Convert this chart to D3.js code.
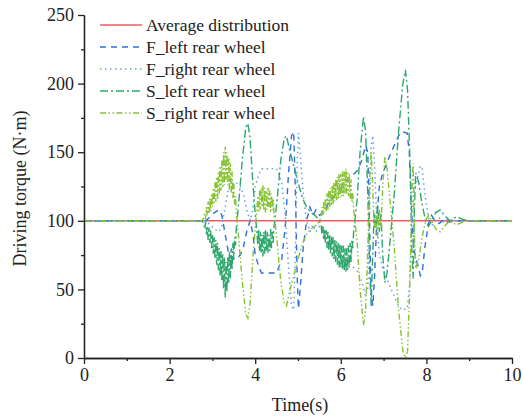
<!DOCTYPE html>
<html>
<head>
<meta charset="utf-8">
<script src="https://cdn.jsdelivr.net/npm/d3@7"></script>
<style>
  body { margin: 0; background: #fff; }
  svg { display: block; font-family: "Liberation Serif", "Times New Roman", serif; }
</style>
</head>
<body>
<div id="body"></div>
<script>
// torque curves, [time (s), torque (N·m)]
var avgDist = [[0, 100], [10, 100]];

var fLeft = [[0,100],[2.85,100],[2.95,103],[3.05,106],[3.15,108],[3.22,104],[3.30,90],[3.38,76],[3.46,72],
  [3.55,72],[3.65,75],[3.72,80],[3.80,92],[3.88,100],[3.95,90],[4.0,75],[4.1,65],[4.15,62],[4.5,62],
  [4.55,66],[4.62,72],[4.70,95],[4.78,135],[4.85,162],[4.90,165],[4.94,120],[4.98,60],[5.01,36],[5.05,50],
  [5.12,80],[5.2,100],[5.28,110],[5.35,104],[5.42,108],[5.5,104],[5.6,106],[5.7,112],[5.8,116],[5.9,120],
  [6.0,124],[6.1,128],[6.2,132],[6.3,134],[6.4,137],[6.5,145],[6.58,155],[6.63,150],[6.67,100],[6.71,45],
  [6.75,38],[6.79,60],[6.84,100],[6.90,125],[6.98,135],[7.05,140],[7.15,148],[7.25,155],[7.35,162],
  [7.42,165],[7.55,164],[7.60,150],[7.65,110],[7.70,80],[7.78,70],[7.86,60],[7.90,62],[7.97,82],[8.05,98],
  [8.12,104],[8.2,100],[8.3,98],[8.4,101],[8.5,99],[8.7,100],[10,100]];

var fRight = [[0,100],[2.85,100],[2.95,97],[3.05,94],[3.15,92],[3.22,96],[3.30,110],[3.38,124],[3.46,128],
  [3.55,128],[3.65,125],[3.72,120],[3.80,108],[3.88,100],[3.95,110],[4.0,125],[4.1,135],[4.15,138],[4.5,138],
  [4.55,134],[4.62,128],[4.70,105],[4.78,65],[4.85,38],[4.90,35],[4.94,80],[4.98,140],[5.01,164],[5.05,150],
  [5.12,120],[5.2,100],[5.28,92],[5.35,97],[5.42,92],[5.5,96],[5.6,94],[5.7,88],[5.8,84],[5.9,80],
  [6.0,76],[6.1,72],[6.2,68],[6.3,66],[6.4,63],[6.5,55],[6.58,45],[6.63,50],[6.67,100],[6.71,155],
  [6.75,162],[6.79,140],[6.84,100],[6.90,75],[6.98,65],[7.05,60],[7.15,52],[7.25,45],[7.35,38],
  [7.42,35],[7.55,36],[7.60,50],[7.65,90],[7.70,120],[7.78,130],[7.86,140],[7.90,138],[7.97,118],[8.05,102],
  [8.12,96],[8.2,100],[8.3,102],[8.4,99],[8.5,101],[8.7,100],[10,100]];

var sLeft = [[0,100],[2.75,100],
  [2.80,98],[2.82,94],[2.84,99],[2.86,90],[2.88,96],[2.90,86],[2.92,95],[2.94,84],[2.96,93],[2.98,80],
  [3.00,90],[3.02,76],[3.04,88],[3.06,72],[3.08,86],[3.10,68],[3.12,84],[3.14,64],[3.16,80],[3.18,60],
  [3.20,78],[3.22,56],[3.24,76],[3.26,50],[3.28,74],[3.30,44],[3.32,70],[3.34,48],[3.36,74],[3.38,54],
  [3.40,78],[3.42,58],[3.44,80],[3.46,64],[3.48,84],[3.50,72],[3.52,88],[3.54,82],[3.56,95],
  [3.62,115],[3.70,145],[3.78,168],[3.83,171],[3.88,160],[3.94,130],[4.00,105],
  [4.04,92],[4.06,82],[4.08,94],[4.10,78],[4.12,92],[4.14,76],[4.16,90],[4.18,74],[4.20,92],[4.22,76],
  [4.24,94],[4.26,78],[4.28,92],[4.30,76],[4.32,90],[4.34,78],[4.36,94],[4.38,80],[4.40,92],[4.42,84],
  [4.44,96],[4.46,100],
  [4.52,118],[4.60,145],[4.68,160],[4.73,162],[4.80,152],[4.90,140],[5.00,128],
  [5.10,117],[5.20,110],[5.30,106],[5.40,104],[5.50,100],
  [5.54,97],[5.56,90],[5.58,96],[5.60,86],[5.62,94],[5.64,84],[5.66,93],[5.68,80],[5.70,92],[5.72,78],
  [5.74,90],[5.76,76],[5.78,89],[5.80,74],[5.82,88],[5.84,72],[5.86,86],[5.88,70],[5.90,85],[5.92,68],
  [5.94,84],[5.96,66],[5.98,83],[6.00,66],[6.02,82],[6.04,64],[6.06,82],[6.08,64],[6.10,80],[6.12,62],
  [6.14,80],[6.16,64],[6.18,82],[6.20,66],[6.22,84],[6.24,70],[6.26,86],[6.28,80],[6.30,92],
  [6.38,115],[6.45,150],[6.53,176],
  [6.58,165],[6.63,120],[6.68,60],[6.71,38],[6.74,70],[6.78,105],[6.82,95],[6.86,112],[6.90,92],
  [6.94,105],[6.98,75],[7.03,55],[7.08,62],[7.15,85],[7.25,120],[7.35,165],[7.45,200],[7.51,210],
  [7.56,195],[7.62,140],[7.66,80],[7.69,58],[7.72,110],[7.75,135],[7.82,128],[7.90,112],[7.98,100],
  [8.05,96],[8.12,100],[8.22,106],[8.32,108],[8.42,104],[8.55,100],[8.70,103],[8.85,101],[9.0,100],[10,100]];

var sRight = [[0,100],[2.75,100],
  [2.80,102],[2.82,106],[2.84,101],[2.86,110],[2.88,104],[2.90,114],[2.92,105],[2.94,116],[2.96,107],[2.98,120],
  [3.00,110],[3.02,124],[3.04,112],[3.06,128],[3.08,114],[3.10,132],[3.12,116],[3.14,136],[3.16,120],[3.18,140],
  [3.20,122],[3.22,144],[3.24,124],[3.26,150],[3.28,126],[3.30,154],[3.32,130],[3.34,150],[3.36,126],[3.38,146],
  [3.40,122],[3.42,142],[3.44,120],[3.46,136],[3.48,116],[3.50,128],[3.52,112],[3.54,118],[3.56,105],
  [3.62,85],[3.70,55],[3.78,32],[3.83,29],[3.88,40],[3.94,70],[4.00,95],
  [4.04,108],[4.06,118],[4.08,106],[4.10,122],[4.12,108],[4.14,124],[4.16,110],[4.18,126],[4.20,108],[4.22,124],
  [4.24,106],[4.26,122],[4.28,108],[4.30,124],[4.32,110],[4.34,122],[4.36,106],[4.38,120],[4.40,108],[4.42,116],
  [4.44,104],[4.46,100],
  [4.52,82],[4.60,55],[4.68,40],[4.73,38],[4.80,48],[4.90,60],[5.00,72],
  [5.10,83],[5.20,90],[5.30,94],[5.40,96],[5.50,100],
  [5.54,103],[5.56,110],[5.58,104],[5.60,114],[5.62,106],[5.64,116],[5.66,107],[5.68,120],[5.70,108],[5.72,122],
  [5.74,110],[5.76,124],[5.78,111],[5.80,126],[5.82,112],[5.84,128],[5.86,114],[5.88,130],[5.90,115],[5.92,132],
  [5.94,116],[5.96,134],[5.98,117],[6.00,134],[6.02,118],[6.04,136],[6.06,118],[6.08,136],[6.10,120],[6.12,138],
  [6.14,120],[6.16,136],[6.18,118],[6.20,134],[6.22,116],[6.24,130],[6.26,114],[6.28,120],[6.30,108],
  [6.38,85],[6.45,50],[6.53,24],
  [6.58,35],[6.63,80],[6.68,135],[6.71,150],[6.74,130],[6.78,95],[6.82,105],[6.86,88],
  [6.90,108],[6.94,95],[6.98,125],[7.03,147],[7.08,138],[7.15,115],[7.25,80],[7.35,35],[7.45,5],
  [7.51,0],[7.56,5],[7.62,60],[7.66,120],[7.69,142],[7.72,90],[7.75,65],[7.82,72],[7.90,88],[7.98,100],
  [8.05,104],[8.12,100],[8.22,94],[8.32,92],[8.42,96],[8.55,100],[8.70,97],[8.85,99],[9.0,100],[10,100]];

var seriesNames = ["Average distribution", "F_left rear wheel", "F_right rear wheel", "S_left rear wheel", "S_right rear wheel"];
var xTicks = [0, 2, 4, 6, 8, 10];
var yTicks = [0, 50, 100, 150, 200, 250];

var W = 524, H = 419;
var margin = {top: 15, right: 12, bottom: 61, left: 84};
var width = W - margin.left - margin.right,
    height = H - margin.top - margin.bottom;

var svg = d3.select("#body").append("svg")
    .attr("width", W).attr("height", H);
var g = svg.append("g")
    .attr("transform", "translate(" + margin.left + "," + margin.top + ")");

var x = d3.scaleLinear().domain([0, 10]).range([0, width]);
var y = d3.scaleLinear().domain([0, 250]).range([height, 0]);

var styles = [
  {color: "#f25b5e", dash: null, w: 1.5},
  {color: "#2c70da", dash: "6,5", w: 1.4},
  {color: "#6d9fe6", dash: "1.5,3.5", w: 1.5},
  {color: "#2ea66c", dash: "8,3,2,3", w: 1.4},
  {color: "#86c232", dash: "6,2.5,1.5,2.5,1.5,2.5", w: 1.4}
];
var allData = [avgDist, fLeft, fRight, sLeft, sRight];

var line = d3.line().x(d => x(d[0])).y(d => y(d[1]));

allData.forEach(function (d, i) {
  g.append("path")
    .datum(d)
    .attr("fill", "none")
    .attr("stroke", styles[i].color)
    .attr("stroke-width", styles[i].w)
    .attr("stroke-dasharray", styles[i].dash)
    .attr("d", line);
});

// axes, minor ticks first
g.append("g").attr("transform", "translate(0," + height + ")")
  .call(d3.axisBottom(x).tickValues([1, 3, 5, 7, 9]).tickSize(3).tickSizeOuter(0).tickFormat(""));
g.append("g")
  .call(d3.axisLeft(y).tickValues([25, 75, 125, 175, 225]).tickSize(3).tickSizeOuter(0).tickFormat(""));

var xa = g.append("g").attr("transform", "translate(0," + height + ")")
  .call(d3.axisBottom(x).tickValues(xTicks).tickSize(6).tickSizeOuter(0).tickPadding(4));
var ya = g.append("g")
  .call(d3.axisLeft(y).tickValues(yTicks).tickSize(6).tickSizeOuter(0).tickPadding(4));

g.selectAll(".domain, .tick line").attr("stroke", "#222").attr("stroke-width", 1.3);
g.selectAll(".tick text")
  .style("font-family", "Liberation Serif, serif")
  .style("font-size", "18px")
  .attr("fill", "#222");

svg.append("text")
  .attr("x", margin.left + width / 2 + 2)
  .attr("y", 411)
  .attr("text-anchor", "middle")
  .style("font-size", "18px")
  .attr("fill", "#222")
  .text("Time(s)");

svg.append("text")
  .attr("transform", "translate(26," + (margin.top + height / 2 + 2) + ") rotate(-90)")
  .attr("text-anchor", "middle")
  .style("font-size", "18px")
  .attr("fill", "#222")
  .text("Driving torque (N·m)");

// legend
var leg = svg.append("g").attr("transform", "translate(100,25)");
seriesNames.forEach(function (name, i) {
  var row = leg.append("g").attr("transform", "translate(0," + (i * 22) + ")");
  row.append("line")
    .attr("x1", 0).attr("x2", 42).attr("y1", 0).attr("y2", 0)
    .attr("stroke", styles[i].color)
    .attr("stroke-width", styles[i].w)
    .attr("stroke-dasharray", styles[i].dash);
  row.append("text")
    .attr("x", 46).attr("y", 6)
    .style("font-size", "17.5px")
    .attr("fill", "#222")
    .text(name);
});
</script>
</body>
</html>
